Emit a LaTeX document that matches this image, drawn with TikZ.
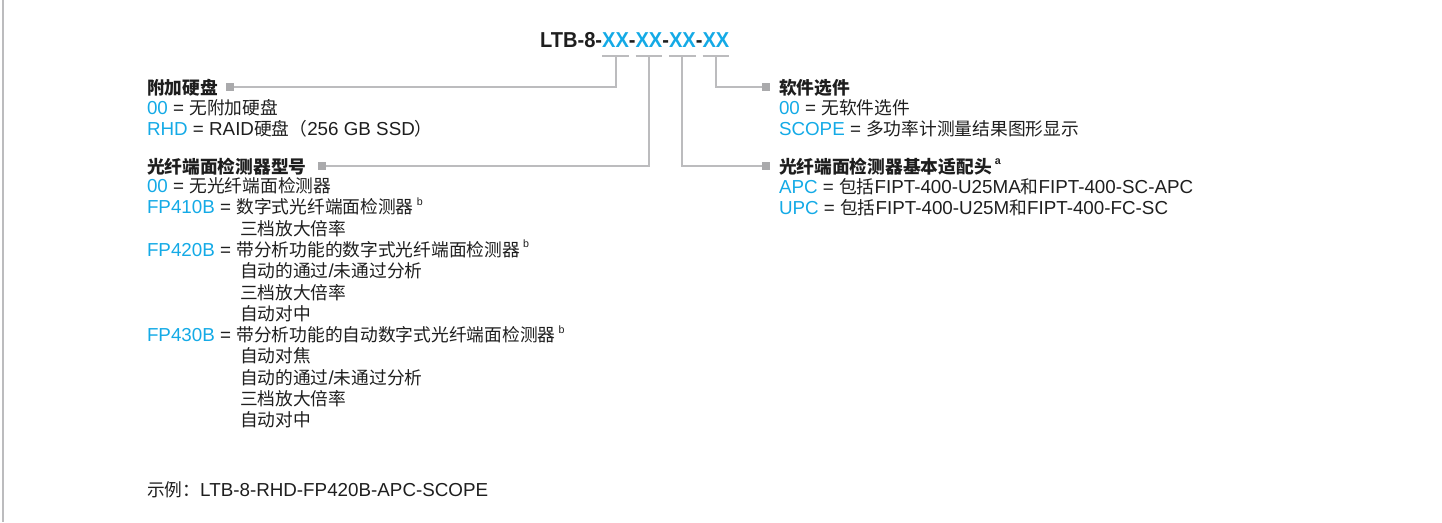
\documentclass[tikz,border=0pt]{standalone}
\usepackage{graphicx}
\usepackage{fontspec}
\setmainfont{Liberation Sans}
\newfontfamily\cjk{Noto Sans CJK SC}
\usetikzlibrary{calc}
\definecolor{ltblue}{RGB}{20,170,230}
\definecolor{lnGray}{RGB}{188,188,190}
\definecolor{sqGray}{RGB}{170,170,172}
\definecolor{txt}{RGB}{30,30,30}
\newcommand{\bl}[1]{\textcolor{ltblue}{#1}}
\newcommand{\C}[1]{{\cjk\fontsize{13.3pt}{15pt}\selectfont #1}}
\newcommand{\supx}[1]{\,\raisebox{0.45em}{\fontsize{8pt}{8pt}\selectfont #1}}
\newcommand{\tsq}[1]{\scalebox{0.93}[1]{#1}}
\begin{document}
\begin{tikzpicture}[x=0.75pt,y=-0.75pt,
  every node/.style={inner sep=0pt, outer sep=0pt, text=txt, font=\fontsize{14.1pt}{15pt}\selectfont},
  txtline/.style={anchor=base west},
  hdr/.style={anchor=base west, font=\fontsize{14.1pt}{15pt}\selectfont\bfseries},
  ttl/.style={anchor=base west, font=\fontsize{16.2pt}{20pt}\selectfont\bfseries},
  ttlx/.style={ttl, text=ltblue},
  sqm/.style={fill=sqGray, minimum size=6pt, inner sep=0pt},
  conn/.style={draw=lnGray, line width=1.5pt},
]
\useasboundingbox (0,0) rectangle (1442,522);
\draw[lnGray, line width=1.5pt] (2.5,0) -- (2.5,522);

% title
\node[ttl] (t0) at (540,47) {\tsq{LTB-8-}};
\node[ttlx] (x1) at (t0.base east) {\tsq{XX}};
\node[ttl] (d1) at (x1.base east) {\tsq{-}};
\node[ttlx] (x2) at (d1.base east) {\tsq{XX}};
\node[ttl] (d2) at (x2.base east) {\tsq{-}};
\node[ttlx] (x3) at (d2.base east) {\tsq{XX}};
\node[ttl] (d3) at (x3.base east) {\tsq{-}};
\node[ttlx] (x4) at (d3.base east) {\tsq{XX}};

% markers
\node[sqm] (sqA) at (230,87) {};
\node[sqm] (sqB) at (322,166) {};
\node[sqm] (sqC) at (766,87) {};
\node[sqm] (sqD) at (766,166) {};

% bars and connectors
\foreach \n in {1,2,3,4}{
  \draw[conn] ($(x\n.base west)+(0,9)$) -- ($(x\n.base east)+(0,9)$);
  \coordinate (b\n) at ($(x\n.base)+(0,9)$);
}
\draw[conn] (b1) |- (sqA);
\draw[conn] (b2) |- (sqB);
\draw[conn] (b3) |- (sqD);
\draw[conn] (b4) |- (sqC);

% left column
\node[hdr] (hA) at (147,94.5) {\C{附加硬盘}};
\node[txtline] (a1) at (147,114.5) {\bl{00} = \C{无附加硬盘}};
\node[txtline] (a2) at (147,135) {\bl{RHD} = RAID\C{硬盘（}256 GB SSD\C{）}};
\node[hdr] (hB) at (147,173) {\C{光纤端面检测器型号}};
\node[txtline] (f1) at (147,192.5) {\bl{00} = \C{无光纤端面检测器}};
\node[txtline] (f2) at (147,213.8) {\bl{FP410B} = \C{数字式光纤端面检测器}\supx{b}};
\node[txtline] (f3) at (240,235.1) {\C{三档放大倍率}};
\node[txtline] (f4) at (147,256.4) {\bl{FP420B} = \C{带分析功能的数字式光纤端面检测器}\supx{b}};
\node[txtline] (f5) at (240,277.7) {\C{自动的通过}/\C{未通过分析}};
\node[txtline] (f6) at (240,299) {\C{三档放大倍率}};
\node[txtline] (f7) at (240,320.3) {\C{自动对中}};
\node[txtline] (f8) at (147,341.6) {\bl{FP430B} = \C{带分析功能的自动数字式光纤端面检测器}\supx{b}};
\node[txtline] (f9) at (240,362.9) {\C{自动对焦}};
\node[txtline] (f10) at (240,384.2) {\C{自动的通过}/\C{未通过分析}};
\node[txtline] (f11) at (240,405.5) {\C{三档放大倍率}};
\node[txtline] (f12) at (240,426.8) {\C{自动对中}};
\node[txtline] (ex) at (147,496.5) {\C{示例：}LTB-8-RHD-FP420B-APC-SCOPE};

% right column
\node[hdr] (hC) at (779,94.5) {\C{软件选件}};
\node[txtline] (s1) at (779,114.5) {\bl{00} = \C{无软件选件}};
\node[txtline] (s2) at (779,135) {\bl{SCOPE} = \C{多功率计测量结果图形显示}};
\node[hdr] (hD) at (779,173) {\C{光纤端面检测器基本适配头}\supx{a}};
\node[txtline] (p1) at (779,193.5) {\bl{APC} = \C{包括}FIPT-400-U25MA\C{和}FIPT-400-SC-APC};
\node[txtline] (p2) at (779,214.5) {\bl{UPC} = \C{包括}FIPT-400-U25M\C{和}FIPT-400-FC-SC};
\end{tikzpicture}
\end{document}
